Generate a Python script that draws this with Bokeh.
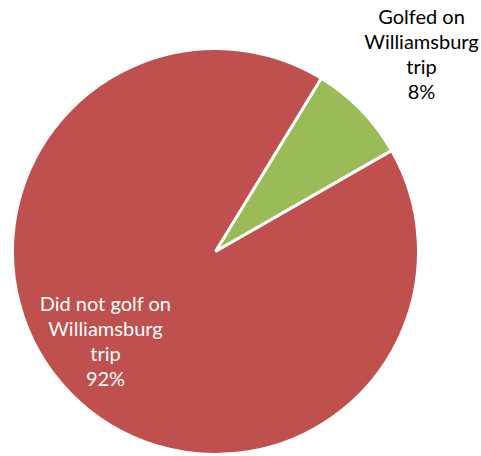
import math
from bokeh.plotting import figure
from bokeh.models import Range1d, ColumnDataSource
from bokeh.core.properties import value
from bokeh.embed import file_html
from bokeh.resources import INLINE

categories = ["Golfed on Williamsburg trip", "Did not golf on Williamsburg trip"]
label_lines = ["Golfed on\nWilliamsburg\ntrip", "Did not golf on\nWilliamsburg\ntrip"]
values = [8, 92]
colors = ["#9BBB59", "#C0504D"]

W, H = 481, 456
p = figure(width=W, height=H, output_backend="svg", toolbar_location=None,
           x_range=Range1d(0, W), y_range=Range1d(0, H), min_border=0)
p.axis.visible = False
p.grid.visible = False
p.outline_line_color = None
p.background_fill_color = "white"

cx, cy, r = 215, H - 251, 203
start0 = math.radians(29.8)
total = sum(values)
starts, ends = [], []
a = start0
for v in values:
    starts.append(a)
    a += v / total * 2 * math.pi
    ends.append(a)

src = ColumnDataSource(dict(start=starts, end=ends, color=colors))
p.wedge(x=cx, y=cy, radius=r, start_angle="start", end_angle="end",
        fill_color="color", line_color="white", line_width=3, source=src)

texts = [f"{l}\n{v}%" for l, v in zip(label_lines, values)]
lx = [421, 105]
ly = [H - 53, H - 340]
tcol = ["#000000", "#FFFFFF"]
p.text(x=lx, y=ly, text=texts, text_color=tcol, text_align="center",
       text_baseline="middle", text_font=value("Lato"), text_font_size="20px",
       text_line_height=1.03)

open("out.html", "w").write(file_html(p, INLINE))
